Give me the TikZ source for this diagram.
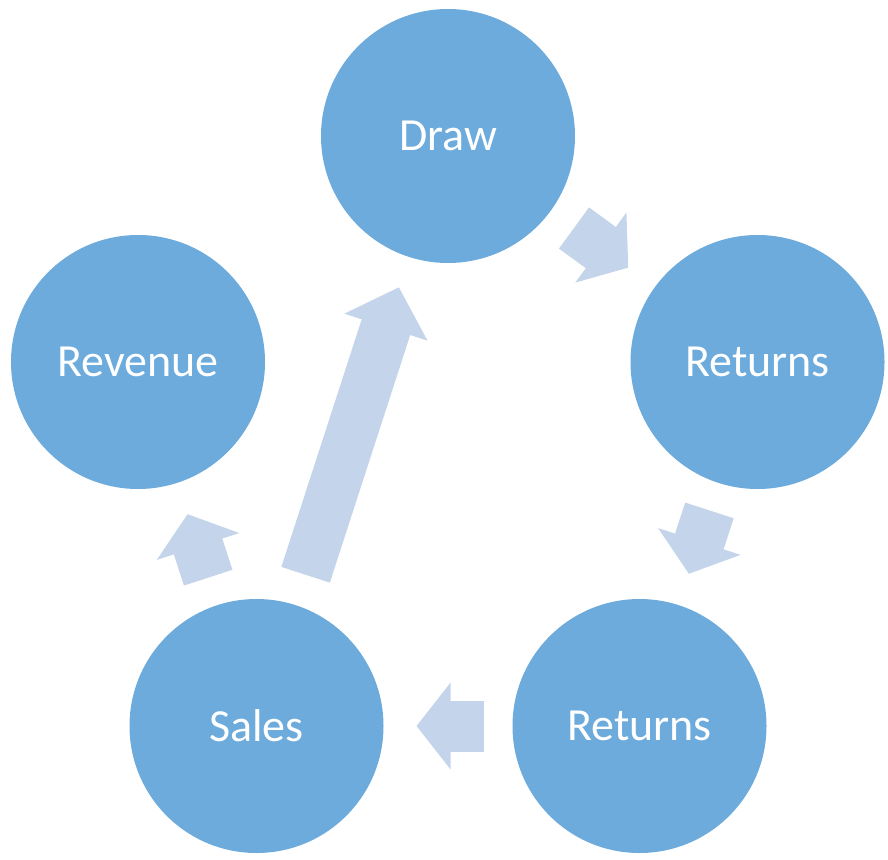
\documentclass[tikz,border=0pt]{standalone}
\usepackage{fontspec}
\setmainfont{Carlito}
\usetikzlibrary{arrows.meta}
\definecolor{ball}{RGB}{108, 171, 220}
\definecolor{pale}{RGB}{196, 213, 235}

\tikzset{
  stage/.style={circle, fill=ball, minimum size=254pt, inner sep=0pt, outer sep=0pt,
    text=white, font=\fontsize{46}{50}\selectfont},
  flow/.style={draw=pale, line width=51pt, -{Triangle[width=85pt, length=34pt]},
    shorten <=29pt, shorten >=33pt}
}

\begin{document}
\begin{tikzpicture}[x=1pt, y=-1pt]
  \useasboundingbox (0, 0) rectangle (888, 859);

  \node[stage] (draw) at (448, 136) {Draw};
  \node[stage] (returnsr) at (757.5, 362) {Returns};
  \node[stage] (returnsb) at (639.5, 726) {Returns};
  \node[stage] (sales) at (256.5, 726) {Sales};
  \node[stage] (revenue) at (138, 362) {Revenue};

  \draw[flow] (draw) -- (returnsr);
  \draw[flow] (returnsr) -- (returnsb);
  \draw[flow] (returnsb) -- (sales);
  \draw[flow] (sales) -- (revenue);
  % the long one back up to the top
  \draw[flow, -{Triangle[width=85pt, length=42pt]}, shorten <=32pt, shorten >=32pt]
    (sales) -- (draw);

\end{tikzpicture}
\end{document}
